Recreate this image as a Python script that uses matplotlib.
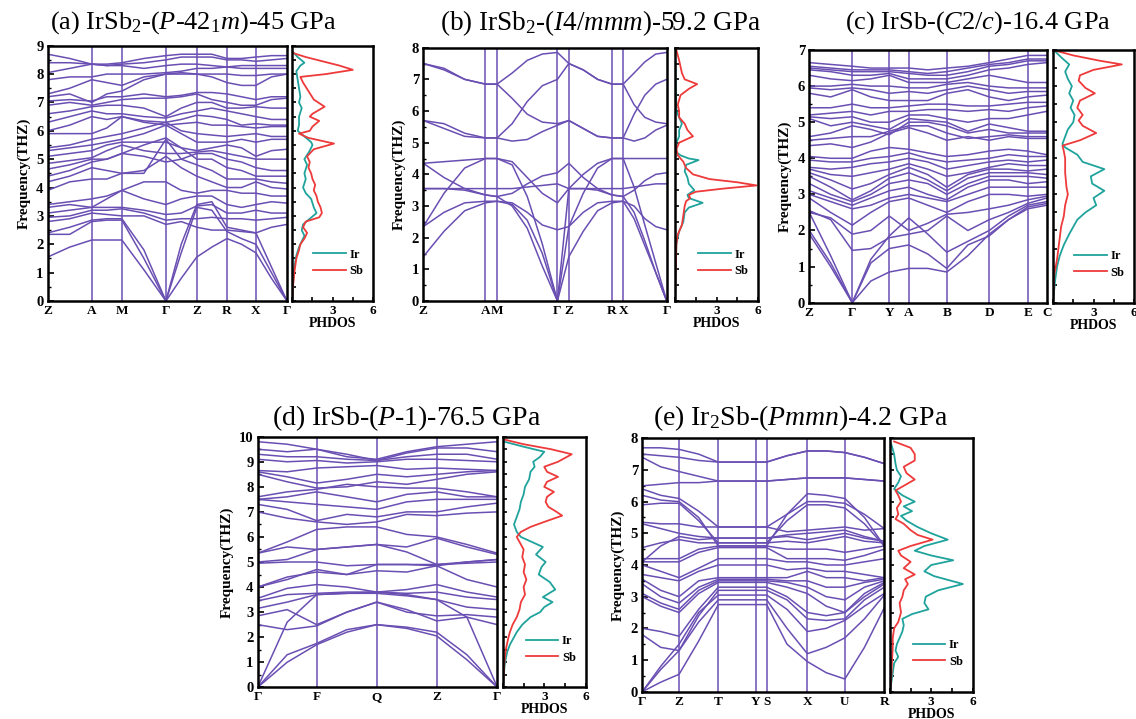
import matplotlib
matplotlib.use("Agg")
import matplotlib.pyplot as plt
from matplotlib.ticker import MultipleLocator, FixedLocator

plt.rcParams['font.family'] = ['Liberation Serif', 'DejaVu Serif']
plt.rcParams['mathtext.fontset'] = 'custom'
plt.rcParams['mathtext.rm'] = 'Liberation Serif'
plt.rcParams['mathtext.it'] = 'Liberation Serif:italic'
plt.rcParams['mathtext.bf'] = 'Liberation Serif:bold'

BAND_COLOR = '#6a4fb3'
IR_COLOR = '#1fa39c'
SB_COLOR = '#ee3a3a'

# ---------------- (a) IrSb2 P-42_1m, 45 GPa ----------------
a_kpath = [0.0, 0.184, 0.310, 0.494, 0.623, 0.749, 0.870, 1.0]
a_klabels = ['Z', 'A', 'M', 'Γ', 'Z', 'R', 'X', 'Γ']
a_knodes = [0.0, 0.092, 0.184, 0.247, 0.310, 0.402, 0.494, 0.558,
            0.623, 0.686, 0.749, 0.810, 0.870, 0.935, 1.0]
a_bands = [
    [1.55, 1.9, 2.15, 2.15, 2.15, 1.1, 0.0, 0.8, 1.55, 1.9, 2.2, 2.0, 1.7, 0.8, 0.0],
    [2.35, 2.35, 2.8, 2.85, 2.85, 1.5, 0.0, 1.7, 3.3, 3.2, 2.45, 2.2, 2.0, 1.0, 0.0],
    [2.4, 2.6, 2.85, 2.9, 2.9, 1.8, 0.0, 2.0, 3.4, 3.5, 2.6, 2.5, 2.4, 1.2, 0.0],
    [2.8, 2.9, 3.1, 3.05, 3.0, 3.0, 2.7, 2.8, 2.6, 2.5, 2.5, 2.45, 2.4, 2.6, 2.7],
    [2.95, 3.0, 3.2, 3.2, 3.25, 3.1, 2.85, 2.9, 2.9, 2.95, 2.9, 2.9, 2.85, 2.9, 2.95],
    [3.1, 3.2, 3.3, 3.3, 3.3, 3.2, 3.05, 3.1, 3.35, 3.4, 3.1, 3.1, 3.2, 3.1, 3.1],
    [3.3, 3.4, 3.3, 3.6, 3.9, 3.6, 3.4, 3.6, 3.7, 3.7, 3.4, 3.3, 3.4, 3.5, 3.45],
    [3.4, 3.5, 3.6, 3.7, 3.9, 4.2, 4.2, 3.9, 3.8, 3.9, 3.9, 3.8, 3.8, 3.7, 3.7],
    [3.9, 4.2, 4.3, 4.3, 4.5, 4.6, 5.1, 4.7, 4.4, 4.2, 4.0, 4.0, 4.2, 4.0, 3.95],
    [4.2, 4.4, 4.7, 4.6, 4.5, 4.5, 5.7, 5.0, 4.8, 4.6, 4.3, 4.3, 4.3, 4.2, 4.15],
    [4.4, 4.6, 4.9, 5.0, 5.2, 5.5, 5.75, 5.4, 5.0, 5.0, 4.7, 4.6, 4.4, 4.4, 4.4],
    [4.65, 4.8, 5.0, 5.0, 5.2, 5.1, 4.9, 5.0, 5.2, 5.2, 5.0, 4.9, 4.7, 4.6, 4.6],
    [4.85, 4.95, 5.05, 5.3, 5.5, 5.3, 5.2, 5.2, 5.25, 5.3, 5.2, 5.1, 5.0, 5.0, 5.0],
    [5.1, 5.2, 5.3, 5.5, 5.6, 5.6, 5.6, 5.4, 5.3, 5.4, 5.5, 5.4, 5.1, 5.3, 5.35],
    [5.3, 5.4, 5.5, 5.6, 5.7, 5.9, 6.2, 5.9, 5.6, 5.6, 5.6, 5.7, 5.6, 5.7, 5.7],
    [5.4, 5.5, 5.7, 5.8, 5.9, 6.1, 6.3, 6.0, 5.9, 5.85, 5.8, 5.85, 5.9, 5.8, 5.8],
    [5.9, 5.9, 5.9, 6.1, 6.5, 6.3, 6.2, 6.25, 6.3, 6.2, 6.2, 6.15, 6.1, 6.15, 6.15],
    [6.0, 6.2, 6.5, 6.4, 6.5, 6.35, 6.3, 6.4, 6.55, 6.5, 6.4, 6.2, 6.25, 6.2, 6.2],
    [6.3, 6.5, 6.7, 6.6, 6.6, 6.5, 6.45, 6.6, 6.7, 6.8, 6.7, 6.6, 6.5, 6.4, 6.4],
    [6.6, 6.7, 6.85, 6.9, 6.9, 6.8, 6.5, 6.8, 7.0, 7.0, 6.8, 6.8, 6.85, 6.8, 6.8],
    [6.9, 7.0, 6.9, 7.0, 7.1, 7.15, 7.15, 7.2, 7.3, 7.1, 7.0, 6.9, 6.9, 7.1, 7.15],
    [7.05, 7.1, 7.05, 7.2, 7.2, 7.3, 7.2, 7.25, 7.35, 7.35, 7.3, 7.2, 7.1, 7.2, 7.2],
    [7.2, 7.3, 7.0, 7.3, 7.4, 7.8, 8.0, 8.0, 8.0, 7.9, 7.7, 7.6, 7.6, 7.9, 8.0],
    [7.3, 7.5, 7.8, 7.7, 7.6, 7.9, 8.0, 8.05, 8.0, 8.0, 8.0, 7.95, 7.95, 8.0, 8.0],
    [7.8, 7.9, 7.9, 8.0, 8.0, 8.0, 8.05, 8.1, 8.2, 8.2, 8.25, 8.2, 8.2, 8.2, 8.2],
    [8.05, 8.2, 8.35, 8.3, 8.3, 8.2, 8.3, 8.35, 8.35, 8.3, 8.25, 8.3, 8.3, 8.3, 8.3],
    [8.4, 8.4, 8.35, 8.3, 8.35, 8.4, 8.5, 8.6, 8.6, 8.6, 8.5, 8.5, 8.45, 8.5, 8.55],
    [8.7, 8.55, 8.35, 8.35, 8.4, 8.55, 8.65, 8.7, 8.7, 8.7, 8.55, 8.55, 8.6, 8.65, 8.65],
]
a_ir_freq = [0, 0.6, 1.2, 1.6, 1.9, 2.1, 2.3, 2.5, 2.7, 2.9, 3.1, 3.3, 3.6, 3.8, 4.0,
             4.3, 4.5, 4.8, 5.0, 5.3, 5.5, 5.6, 5.8, 6.0, 6.2, 6.5, 6.8, 7.0, 7.2,
             7.5, 7.8, 8.1, 8.3, 8.4, 8.6, 8.8]
a_ir_dos = [0, 0.05, 0.15, 0.3, 0.5, 0.7, 0.9, 0.7, 0.8, 1.3, 1.8, 1.6, 1.4, 1.0, 0.8,
            1.0, 0.9, 1.1, 0.9, 1.3, 1.5, 1.4, 0.9, 0.4, 0.5, 0.5, 0.7, 0.5, 0.6,
            0.5, 0.4, 0.3, 0.6, 0.9, 0.4, 0.0]
a_sb_freq = [0, 0.5, 1.0, 1.5, 1.8, 2.0, 2.2, 2.4, 2.6, 2.8, 2.95, 3.1, 3.3, 3.5, 3.7,
             3.9, 4.1, 4.3, 4.5, 4.7, 4.9, 5.1, 5.35, 5.55, 5.75, 5.9, 6.0, 6.15,
             6.35, 6.5, 6.6, 6.85, 7.1, 7.4, 7.7, 7.9, 8.0, 8.15, 8.3, 8.6, 8.75]
a_sb_dos = [0, 0.05, 0.15, 0.3, 0.5, 0.6, 0.9, 1.1, 0.8, 1.0, 2.0, 2.2, 2.1, 1.9, 1.8,
            1.6, 1.7, 1.5, 1.4, 1.2, 1.3, 1.1, 1.6, 3.1, 1.2, 0.5, 1.3, 1.5,
            2.0, 1.3, 1.5, 2.4, 1.6, 1.2, 0.8, 0.6, 2.5, 4.5, 3.5, 1.0, 0.0]

# ---------------- (b) IrSb2 I4/mmm, 59.2 GPa ----------------
b_kpath = [0.0, 0.255, 0.303, 0.551, 0.598, 0.775, 0.821, 1.0]
b_klabels = ['Z', 'A', 'M', 'Γ', 'Z', 'R', 'X', 'Γ']
b_knodes = [0.0, 0.085, 0.170, 0.255, 0.303, 0.365, 0.427, 0.489, 0.551,
            0.598, 0.657, 0.716, 0.775, 0.821, 0.866, 0.910, 0.955, 1.0]
b_bands = [
    [1.4, 2.2, 2.85, 3.1, 3.15, 3.05, 2.55, 1.5, 0.0, 1.4, 2.2, 2.85, 3.1, 3.15, 2.6, 1.75, 0.9, 0.0],
    [2.35, 3.4, 4.2, 4.5, 4.5, 4.3, 3.3, 1.8, 0.0, 2.35, 3.4, 4.2, 4.5, 4.5, 3.6, 2.4, 1.2, 0.0],
    [3.55, 3.55, 3.5, 3.35, 3.3, 3.0, 2.3, 1.1, 0.0, 3.55, 3.55, 3.5, 3.35, 3.3, 2.8, 1.9, 0.9, 0.0],
    [3.55, 3.55, 3.55, 3.55, 3.55, 3.55, 3.6, 3.65, 3.7, 3.55, 3.55, 3.55, 3.55, 3.55, 3.6, 3.65, 3.7, 3.7],
    [4.35, 3.9, 3.55, 3.35, 3.3, 3.4, 3.7, 3.95, 4.05, 4.35, 3.9, 3.55, 3.35, 3.3, 3.5, 3.8, 4.0, 4.05],
    [4.35, 4.4, 4.45, 4.5, 4.5, 4.4, 3.9, 3.4, 3.1, 3.55, 4.0, 4.35, 4.5, 4.5, 4.5, 4.5, 4.5, 4.5],
    [2.35, 2.8, 3.1, 3.15, 3.15, 3.1, 2.8, 2.4, 2.25, 2.35, 2.8, 3.1, 3.15, 3.15, 3.0, 2.6, 2.35, 2.25],
    [5.7, 5.45, 5.2, 5.15, 5.15, 5.05, 5.1, 5.35, 5.55, 5.7, 5.45, 5.2, 5.15, 5.15, 5.05, 5.15, 5.4, 5.55],
    [5.7, 5.6, 5.3, 5.15, 5.15, 5.6, 6.3, 6.8, 7.0, 7.5, 7.3, 7.0, 6.85, 6.85, 6.2, 5.8, 5.65, 5.6],
    [7.5, 7.3, 7.0, 6.85, 6.85, 6.4, 5.9, 5.65, 5.6, 5.7, 5.45, 5.2, 5.15, 5.15, 5.9, 6.5, 6.85, 7.0],
    [7.5, 7.35, 7.0, 6.85, 6.85, 7.2, 7.6, 7.8, 7.85, 7.5, 7.3, 7.0, 6.85, 6.85, 7.2, 7.55, 7.8, 7.85],
]
b_ir_freq = [0, 1.8, 2.2, 2.5, 2.8, 2.95, 3.1, 3.25, 3.35, 3.5, 3.7, 3.9, 4.1, 4.3,
             4.45, 4.5, 4.6, 4.7, 5.0, 5.2, 5.4, 5.6, 6.0, 7.0, 8.0]
b_ir_dos = [0, 0.1, 0.3, 0.6, 0.7, 1.0, 2.0, 1.0, 0.9, 1.4, 1.0, 0.9, 0.7, 0.8,
            1.7, 1.0, 0.4, 0.1, 0.1, 0.3, 0.3, 0.5, 0.1, 0.05, 0.0]
b_sb_freq = [0, 1.8, 2.1, 2.4, 2.7, 3.0, 3.15, 3.25, 3.35, 3.45, 3.55, 3.65, 3.75,
             3.85, 4.0, 4.2, 4.4, 4.6, 4.8, 5.0, 5.2, 5.4, 5.6, 5.8, 6.0, 6.2, 6.5,
             6.7, 6.85, 7.0, 7.2, 7.6, 8.0]
b_sb_dos = [0, 0.1, 0.2, 0.5, 0.6, 0.7, 0.8, 1.1, 1.0, 1.5, 3.5, 5.9, 4.5,
            2.5, 1.3, 0.8, 0.6, 0.2, 0.1, 0.3, 1.3, 0.9, 0.7, 0.3, 0.3, 0.2, 0.4,
            1.0, 1.6, 0.7, 0.5, 0.3, 0.05]

# ---------------- (c) IrSb C2/c, 16.4 GPa ----------------
c_kpath = [0.0, 0.181, 0.337, 0.419, 0.579, 0.758, 0.920, 1.0]
c_klabels = ['Z', 'Γ', 'Y', 'A', 'B', 'D', 'E', 'C']
c_knodes = [0.0, 0.09, 0.181, 0.259, 0.337, 0.419, 0.499, 0.579, 0.668, 0.758, 0.839, 0.920, 1.0]
c_bands = [
    [1.9, 1.0, 0.0, 0.6, 0.85, 0.95, 0.95, 0.85, 1.3, 1.9, 2.3, 2.6, 2.7],
    [2.0, 1.1, 0.0, 1.1, 1.5, 1.6, 1.35, 0.95, 1.6, 1.85, 2.3, 2.65, 2.75],
    [2.5, 1.3, 0.0, 1.2, 1.85, 2.35, 1.9, 1.4, 1.7, 2.0, 2.4, 2.7, 2.8],
    [2.55, 2.3, 1.45, 1.5, 1.8, 1.9, 2.0, 2.4, 2.0, 2.3, 2.5, 2.75, 2.9],
    [2.5, 2.35, 1.9, 2.0, 2.4, 2.0, 2.2, 2.45, 2.5, 2.6, 2.7, 2.85, 2.95],
    [2.9, 2.5, 2.15, 2.5, 2.8, 2.9, 2.7, 2.5, 2.8, 3.0, 3.0, 2.95, 3.0],
    [3.0, 2.8, 2.6, 2.7, 2.9, 3.0, 2.9, 2.8, 3.0, 3.2, 3.2, 3.2, 3.2],
    [3.1, 2.9, 2.7, 2.9, 3.1, 3.2, 3.0, 2.85, 3.2, 3.4, 3.4, 3.3, 3.35],
    [3.3, 3.0, 2.8, 3.0, 3.3, 3.4, 3.3, 3.0, 3.3, 3.5, 3.5, 3.5, 3.45],
    [3.5, 3.2, 2.85, 3.1, 3.45, 3.6, 3.4, 3.1, 3.45, 3.6, 3.6, 3.6, 3.55],
    [3.6, 3.4, 3.15, 3.3, 3.55, 3.75, 3.55, 3.2, 3.55, 3.7, 3.7, 3.65, 3.7],
    [3.7, 3.55, 3.5, 3.6, 3.7, 3.85, 3.7, 3.5, 3.6, 3.75, 3.85, 3.8, 3.8],
    [3.75, 3.7, 3.75, 3.85, 3.9, 4.0, 3.9, 3.7, 3.8, 3.9, 3.95, 3.9, 3.95],
    [3.95, 3.9, 3.9, 4.0, 4.05, 4.15, 4.0, 3.9, 3.95, 4.0, 4.1, 4.05, 4.05],
    [4.05, 4.0, 4.0, 4.2, 4.3, 4.25, 4.15, 4.05, 4.1, 4.2, 4.25, 4.2, 4.1],
    [4.35, 4.4, 4.3, 4.45, 4.7, 4.85, 4.7, 4.5, 4.6, 4.5, 4.6, 4.55, 4.55],
    [4.5, 4.55, 4.6, 4.6, 4.75, 4.9, 4.9, 4.7, 4.55, 4.6, 4.65, 4.6, 4.6],
    [4.6, 4.7, 4.9, 4.8, 4.65, 5.0, 5.0, 4.9, 4.7, 4.8, 4.7, 4.7, 4.7],
    [5.1, 4.9, 5.0, 4.9, 4.8, 5.1, 5.05, 5.0, 4.75, 4.95, 4.85, 4.75, 4.75],
    [5.15, 5.1, 5.15, 5.0, 5.0, 5.2, 5.2, 5.1, 5.0, 5.1, 5.1, 5.2, 5.3],
    [5.2, 5.25, 5.3, 5.2, 5.3, 5.3, 5.35, 5.35, 5.3, 5.35, 5.3, 5.4, 5.45],
    [5.4, 5.4, 5.5, 5.4, 5.4, 5.45, 5.5, 5.5, 5.45, 5.45, 5.5, 5.55, 5.55],
    [5.8, 5.7, 5.9, 5.7, 5.6, 5.6, 5.6, 5.8, 5.9, 5.7, 5.6, 5.7, 5.75],
    [5.95, 5.9, 5.95, 5.9, 5.8, 5.85, 5.8, 5.9, 6.0, 5.9, 5.8, 5.85, 5.85],
    [6.0, 6.0, 6.05, 6.0, 6.0, 5.95, 5.95, 6.05, 6.1, 6.0, 5.95, 5.95, 5.95],
    [6.3, 6.2, 6.15, 6.2, 6.3, 6.1, 6.1, 6.1, 6.2, 6.3, 6.2, 6.1, 6.1],
    [6.45, 6.4, 6.3, 6.3, 6.35, 6.2, 6.2, 6.2, 6.3, 6.45, 6.5, 6.6, 6.65],
    [6.5, 6.45, 6.4, 6.4, 6.4, 6.35, 6.3, 6.3, 6.4, 6.55, 6.6, 6.7, 6.7],
    [6.55, 6.5, 6.45, 6.45, 6.45, 6.4, 6.35, 6.4, 6.5, 6.6, 6.65, 6.75, 6.75],
    [6.65, 6.6, 6.55, 6.5, 6.5, 6.5, 6.45, 6.5, 6.55, 6.65, 6.75, 6.85, 6.85],
]
c_ir_freq = [0, 0.6, 1.0, 1.3, 1.6, 1.9, 2.1, 2.3, 2.5, 2.7, 2.9, 3.1, 3.3, 3.5, 3.7,
             3.9, 4.1, 4.3, 4.4, 4.6, 4.8, 5.0, 5.2, 5.4, 5.6, 5.8, 6.0, 6.2, 6.4,
             6.6, 6.8, 7.0]
c_ir_dos = [0, 0.15, 0.3, 0.5, 0.8, 1.2, 1.5, 1.8, 2.4, 3.2, 3.0, 3.8, 2.9, 2.8, 3.8,
            2.2, 1.8, 0.9, 0.7, 0.9, 1.1, 1.5, 1.6, 1.3, 1.5, 1.2, 1.4, 1.1, 0.9,
            1.2, 0.6, 0.05]
c_sb_freq = [0, 0.8, 1.2, 1.5, 1.8, 2.1, 2.4, 2.7, 3.0, 3.2, 3.6, 4.0, 4.2, 4.35,
             4.5, 4.7, 4.9, 5.05, 5.2, 5.4, 5.6, 5.8, 5.95, 6.15, 6.3, 6.45, 6.6,
             6.7, 6.85, 7.0]
c_sb_dos = [0, 0.1, 0.3, 0.4, 0.5, 0.6, 0.8, 0.9, 1.1, 1.0, 0.9, 0.9, 0.8, 0.7,
            2.0, 3.2, 2.2, 1.9, 2.2, 1.8, 2.0, 3.1, 2.4, 1.9, 2.0, 3.0, 5.1,
            3.5, 1.5, 0.0]

# ---------------- (d) IrSb P-1, 76.5 GPa ----------------
d_kpath = [0.0, 0.246, 0.497, 0.747, 1.0]
d_klabels = ['Γ', 'F', 'Q', 'Z', 'Γ']
d_knodes = [0.0, 0.123, 0.246, 0.372, 0.497, 0.622, 0.747, 0.873, 1.0]
d_bands = [
    [0.0, 1.0, 1.7, 2.2, 2.5, 2.35, 2.05, 1.1, 0.0],
    [0.0, 1.3, 1.75, 2.3, 2.5, 2.4, 2.2, 1.3, 0.0],
    [0.0, 2.6, 3.7, 3.75, 3.8, 3.7, 3.5, 2.8, 0.0],
    [2.5, 2.3, 2.45, 3.0, 3.4, 3.1, 2.65, 2.8, 2.5],
    [2.85, 3.1, 2.5, 3.0, 3.4, 3.0, 2.85, 2.9, 2.8],
    [3.15, 3.4, 3.7, 3.75, 3.75, 3.65, 3.5, 3.2, 3.1],
    [3.45, 3.7, 3.75, 3.8, 3.8, 3.75, 3.8, 3.6, 3.5],
    [3.55, 3.95, 4.1, 4.0, 3.8, 3.9, 4.1, 3.8, 3.6],
    [4.0, 4.4, 4.6, 4.5, 4.65, 4.6, 4.85, 4.3, 4.0],
    [4.0, 4.3, 4.7, 4.5, 4.9, 4.9, 4.9, 4.95, 5.0],
    [4.95, 5.0, 5.0, 4.85, 4.9, 4.9, 4.85, 5.0, 5.1],
    [5.0, 5.1, 5.5, 5.6, 5.7, 5.4, 4.9, 5.0, 5.1],
    [5.35, 5.6, 5.5, 5.6, 5.7, 5.6, 5.95, 5.6, 5.3],
    [5.35, 5.8, 6.3, 6.4, 6.4, 6.1, 6.0, 5.7, 5.35],
    [7.0, 6.75, 6.6, 6.5, 6.6, 6.9, 6.85, 6.95, 7.0],
    [7.3, 7.1, 6.65, 6.9, 6.8, 7.0, 7.0, 7.2, 7.35],
    [7.5, 7.4, 7.3, 7.2, 7.1, 7.4, 7.5, 7.5, 7.5],
    [7.5, 7.6, 7.8, 7.6, 7.4, 7.7, 7.8, 7.6, 7.6],
    [7.6, 7.8, 7.9, 8.1, 8.0, 7.95, 7.95, 7.8, 7.6],
    [8.5, 8.2, 7.95, 8.0, 8.2, 8.1, 8.3, 8.5, 8.6],
    [8.6, 8.4, 8.15, 8.3, 8.5, 8.4, 8.5, 8.6, 8.65],
    [8.65, 8.6, 8.75, 8.8, 8.85, 8.7, 8.75, 8.7, 8.65],
    [9.1, 9.0, 9.05, 8.95, 9.0, 9.1, 9.1, 9.05, 9.0],
    [9.3, 9.2, 9.2, 9.1, 9.05, 9.2, 9.3, 9.3, 9.1],
    [9.5, 9.4, 9.5, 9.3, 9.05, 9.35, 9.55, 9.55, 9.4],
    [9.8, 9.7, 9.5, 9.2, 9.1, 9.4, 9.6, 9.7, 9.8],
]
d_ir_freq = [0, 0.5, 1.0, 1.4, 1.7, 2.0, 2.2, 2.5, 2.8, 3.0, 3.2, 3.4, 3.6, 3.9, 4.2,
             4.5, 4.8, 5.0, 5.3, 5.6, 5.8, 6.0, 6.2, 6.5, 6.8, 7.1, 7.4, 7.7, 8.0,
             8.3, 8.6, 8.8, 9.0, 9.2, 9.4, 9.6, 9.8]
d_ir_dos = [0, 0.05, 0.15, 0.3, 0.5, 0.8, 1.0, 1.4, 2.0, 2.7, 3.0, 3.6, 2.9, 3.8, 3.4,
            2.6, 2.8, 3.1, 2.4, 2.9, 2.1, 1.3, 1.0, 0.8, 1.0, 1.2, 1.3, 1.5, 1.6,
            1.9, 2.0, 2.3, 2.2, 2.7, 3.0, 1.5, 0.1]
d_sb_freq = [0, 1.0, 1.5, 2.0, 2.2, 2.5, 2.8, 3.1, 3.4, 3.7, 4.0, 4.3, 4.6, 4.9, 5.2,
             5.5, 5.8, 6.0, 6.2, 6.4, 6.6, 6.85, 7.0, 7.2, 7.4, 7.6, 7.8, 8.0, 8.2,
             8.4, 8.6, 8.8, 9.0, 9.3, 9.5, 9.7, 9.9]
d_sb_dos = [0, 0.1, 0.2, 0.4, 0.5, 0.7, 1.0, 1.2, 1.3, 1.6, 1.5, 1.7, 1.5, 1.6, 1.4,
            1.5, 1.2, 1.0, 1.3, 2.0, 3.0, 4.3, 3.9, 3.3, 3.1, 3.2, 3.7, 3.0, 3.2,
            4.0, 3.2, 3.0, 4.0, 5.0, 3.5, 1.5, 0.0]

# ---------------- (e) Ir2Sb Pmmn, 4.2 GPa ----------------
e_kpath = [0.0, 0.152, 0.314, 0.469, 0.514, 0.682, 0.837, 1.0]
e_klabels = ['Γ', 'Z', 'T', 'Y', 'S', 'X', 'U', 'R']
e_knodes = [0.0, 0.076, 0.152, 0.233, 0.314, 0.469, 0.514, 0.598, 0.682, 0.760, 0.837, 0.918, 1.0]
e_bands = [
    [0.0, 0.3, 0.55, 1.6, 2.75, 2.75, 2.75, 1.5, 0.95, 0.6, 0.4, 1.4, 2.65],
    [0.0, 0.7, 1.3, 2.2, 2.9, 2.9, 2.9, 2.0, 1.2, 1.4, 1.7, 2.3, 3.05],
    [0.0, 0.8, 1.5, 2.5, 3.05, 3.05, 3.05, 2.6, 1.9, 2.0, 2.25, 2.7, 3.1],
    [1.8, 1.4, 1.3, 2.4, 3.2, 3.2, 3.2, 2.9, 2.3, 2.25, 2.3, 2.9, 3.3],
    [2.0, 1.9, 1.75, 2.6, 3.3, 3.3, 3.3, 3.0, 2.5, 2.4, 2.5, 3.0, 3.4],
    [3.0, 2.7, 2.5, 3.1, 3.45, 3.45, 3.45, 3.3, 3.1, 2.7, 2.5, 3.1, 3.45],
    [3.1, 2.8, 2.6, 3.2, 3.5, 3.5, 3.5, 3.45, 3.3, 3.0, 2.9, 3.3, 3.5],
    [3.4, 3.0, 2.8, 3.3, 3.55, 3.55, 3.55, 3.5, 3.5, 3.3, 3.3, 3.45, 3.55],
    [3.55, 3.2, 3.0, 3.5, 3.6, 3.6, 3.6, 3.6, 3.8, 3.6, 3.6, 3.5, 3.6],
    [3.7, 3.6, 3.5, 3.8, 4.0, 4.0, 4.0, 3.85, 3.9, 3.8, 3.8, 3.7, 3.6],
    [4.0, 3.8, 3.6, 3.9, 4.2, 4.2, 4.2, 4.1, 4.1, 4.0, 4.0, 4.1, 4.2],
    [4.1, 4.1, 4.1, 4.4, 4.55, 4.55, 4.55, 4.2, 4.2, 4.2, 4.15, 4.3, 4.5],
    [4.2, 4.2, 4.2, 4.5, 4.6, 4.6, 4.6, 4.5, 4.5, 4.5, 4.4, 4.5, 4.6],
    [4.55, 4.7, 4.8, 4.7, 4.7, 4.7, 4.7, 4.75, 4.7, 4.8, 4.9, 4.75, 4.7],
    [4.1, 4.6, 4.9, 4.8, 4.85, 4.85, 4.85, 4.9, 4.8, 4.9, 5.0, 4.85, 4.75],
    [5.3, 5.15, 5.0, 4.9, 4.85, 4.85, 4.85, 4.95, 5.0, 5.05, 5.1, 4.9, 4.75],
    [5.35, 5.3, 5.3, 5.2, 5.2, 5.2, 5.2, 5.05, 5.1, 5.15, 5.2, 5.1, 5.15],
    [5.9, 5.95, 5.95, 5.4, 4.7, 4.7, 4.7, 5.4, 5.9, 5.9, 5.8, 5.3, 4.6],
    [6.2, 6.05, 6.0, 5.5, 4.6, 4.6, 4.6, 5.6, 6.25, 6.2, 6.1, 5.5, 4.6],
    [6.4, 6.2, 6.1, 5.7, 5.2, 5.2, 5.2, 5.6, 6.0, 6.0, 5.95, 5.6, 5.15],
    [6.5, 6.55, 6.6, 6.6, 6.65, 6.65, 6.65, 6.7, 6.75, 6.75, 6.75, 6.7, 6.65],
    [7.4, 7.1, 6.95, 6.8, 6.65, 6.65, 6.65, 6.7, 6.75, 6.75, 6.75, 6.7, 6.65],
    [7.5, 7.45, 7.4, 7.3, 7.25, 7.25, 7.25, 7.45, 7.6, 7.6, 7.55, 7.4, 7.2],
    [7.7, 7.7, 7.65, 7.5, 7.25, 7.25, 7.25, 7.45, 7.6, 7.6, 7.55, 7.4, 7.2],
]
e_ir_freq = [0, 0.3, 0.6, 0.9, 1.1, 1.3, 1.5, 1.7, 1.9, 2.1, 2.3, 2.45, 2.6, 2.8, 3.0,
             3.2, 3.4, 3.65, 3.8, 4.0, 4.15, 4.3, 4.45, 4.6, 4.8, 5.0, 5.2, 5.4,
             5.55, 5.7, 5.85, 6.0, 6.2, 6.4, 6.6, 6.8, 7.0, 7.2, 7.5, 7.8]
e_ir_dos = [0, 0.1, 0.2, 0.3, 0.6, 0.4, 0.5, 0.7, 0.9, 1.0, 0.9, 1.6, 2.8, 2.5, 2.6,
            3.5, 5.3, 3.2, 2.5, 3.0, 4.6, 3.0, 1.8, 2.5, 4.2, 3.0, 2.0, 1.2,
            0.8, 1.6, 1.0, 1.8, 0.9, 0.3, 0.6, 0.8, 0.5, 0.4, 0.3, 0.1]
e_sb_freq = [0, 0.5, 1.0, 1.4, 1.7, 2.0, 2.2, 2.5, 2.8, 3.0, 3.2, 3.4, 3.55, 3.7,
             3.9, 4.1, 4.3, 4.45, 4.6, 4.8, 4.95, 5.1, 5.3, 5.45, 5.6, 5.8, 6.0,
             6.2, 6.35, 6.5, 6.7, 6.9, 7.1, 7.3, 7.5, 7.7, 7.9]
e_sb_dos = [0, 0.1, 0.15, 0.2, 0.2, 0.3, 0.6, 0.8, 0.7, 0.9, 1.0, 1.3, 1.1, 1.8,
            1.0, 1.5, 0.8, 0.6, 1.5, 3.1, 2.0, 1.5, 1.0, 0.4, 0.6, 0.5, 0.8,
            0.6, 0.4, 1.0, 1.8, 1.2, 1.0, 1.8, 1.8, 1.5, 0.3]

W, H = 1136, 719


def rect(x0, y0, x1, y1):
    # pixel box -> figure fraction [left, bottom, width, height]
    return [x0 / W, 1 - y1 / H, (x1 - x0) / W, (y1 - y0) / H]


def draw_panel(fig, band_box, dos_box, ymax, kpath, klabels, knodes, bands,
               ir_freq, ir_dos, sb_freq, sb_dos):
    ax = fig.add_axes(rect(*band_box))
    for band in bands:
        ax.plot(knodes, band, color=BAND_COLOR, lw=1.1)
    for k in kpath[1:-1]:
        ax.axvline(k, color=BAND_COLOR, lw=1.1)
    ax.set_xlim(0, 1)
    ax.set_ylim(0, ymax)
    ax.set_xticks(kpath)
    ax.set_xticklabels(klabels, fontsize=9.5, fontweight='bold')
    ax.tick_params(axis='x', length=0, pad=3)
    ax.yaxis.set_major_locator(MultipleLocator(1))
    ax.yaxis.set_minor_locator(MultipleLocator(0.5))
    ax.tick_params(axis='y', which='major', direction='in', length=4, width=1.2,
                   labelsize=10.5, pad=3)
    ax.tick_params(axis='y', which='minor', direction='in', length=2.5, width=1.0)
    for lab in ax.get_yticklabels():
        lab.set_fontweight('bold')
    ax.set_ylabel('Frequency(THZ)', fontsize=11, fontweight='bold', labelpad=4)
    for sp in ax.spines.values():
        sp.set_linewidth(1.8)

    dx = fig.add_axes(rect(*dos_box))
    dx.plot(ir_dos, ir_freq, color=IR_COLOR, lw=1.3, label='Ir')
    dx.plot(sb_dos, sb_freq, color=SB_COLOR, lw=1.3, label='Sb')
    dx.set_xlim(0, 6)
    dx.set_ylim(0, ymax)
    dx.xaxis.set_major_locator(FixedLocator([0, 3, 6]))
    dx.xaxis.set_minor_locator(FixedLocator([1.5, 4.5]))
    dx.set_xticklabels(['', '3', '6'], fontsize=9.5, fontweight='bold')
    dx.yaxis.set_major_locator(MultipleLocator(0.5))
    dx.set_yticklabels([])
    dx.tick_params(axis='both', which='both', direction='in', length=3, width=1.2)
    dx.tick_params(axis='x', pad=3)
    dx.set_xlabel('PHDOS', fontsize=10, fontweight='bold', labelpad=0)
    for sp in dx.spines.values():
        sp.set_linewidth(1.8)
    dx.legend(loc='lower right', bbox_to_anchor=(1.02, 0.05), frameon=False,
              handlelength=2.6, handletextpad=0.3, labelspacing=0.35,
              prop={'family': 'Liberation Serif', 'weight': 'bold', 'size': 9})
    return ax, dx


fig = plt.figure(figsize=(W / 100, H / 100), dpi=100)

draw_panel(fig, (47.7, 45.7, 287, 301), (292.3, 45.7, 373, 301), 9,
           a_kpath, a_klabels, a_knodes, a_bands,
           a_ir_freq, a_ir_dos, a_sb_freq, a_sb_dos)
draw_panel(fig, (423.3, 47.7, 666.7, 301), (675, 47.7, 758, 301), 8,
           b_kpath, b_klabels, b_knodes, b_bands,
           b_ir_freq, b_ir_dos, b_sb_freq, b_sb_dos)
draw_panel(fig, (809.3, 50, 1046.7, 302.7), (1053, 50, 1134, 302.7), 7,
           c_kpath, c_klabels, c_knodes, c_bands,
           c_ir_freq, c_ir_dos, c_sb_freq, c_sb_dos)
draw_panel(fig, (257.7, 436.7, 497.3, 687.3), (503, 436.7, 585.5, 687.3), 10,
           d_kpath, d_klabels, d_knodes, d_bands,
           d_ir_freq, d_ir_dos, d_sb_freq, d_sb_dos)
draw_panel(fig, (642.3, 438.3, 884.3, 691.7), (890, 438.3, 972.5, 691.7), 8,
           e_kpath, e_klabels, e_knodes, e_bands,
           e_ir_freq, e_ir_dos, e_sb_freq, e_sb_dos)

titles = [
    ((193, 23), 19, r'(a) IrSb$_2$-($P$-42$_1$$m$)-45 GPa'),
    ((601, 23), 19.5, r'(b) IrSb$_2$-($I$4/$mmm$)-59.2 GPa'),
    ((978, 23), 19, r'(c) IrSb-($C$2/$c$)-16.4 GPa'),
    ((407, 418), 20, r'(d) IrSb-($P$-1)-76.5 GPa'),
    ((801, 418), 20, r'(e) Ir$_2$Sb-($Pmmn$)-4.2 GPa'),
]
for (x, y), size, t in titles:
    fig.text(x / W, 1 - y / H, t, ha='center', va='center', fontsize=size)

fig.savefig('out.png', dpi=100)
